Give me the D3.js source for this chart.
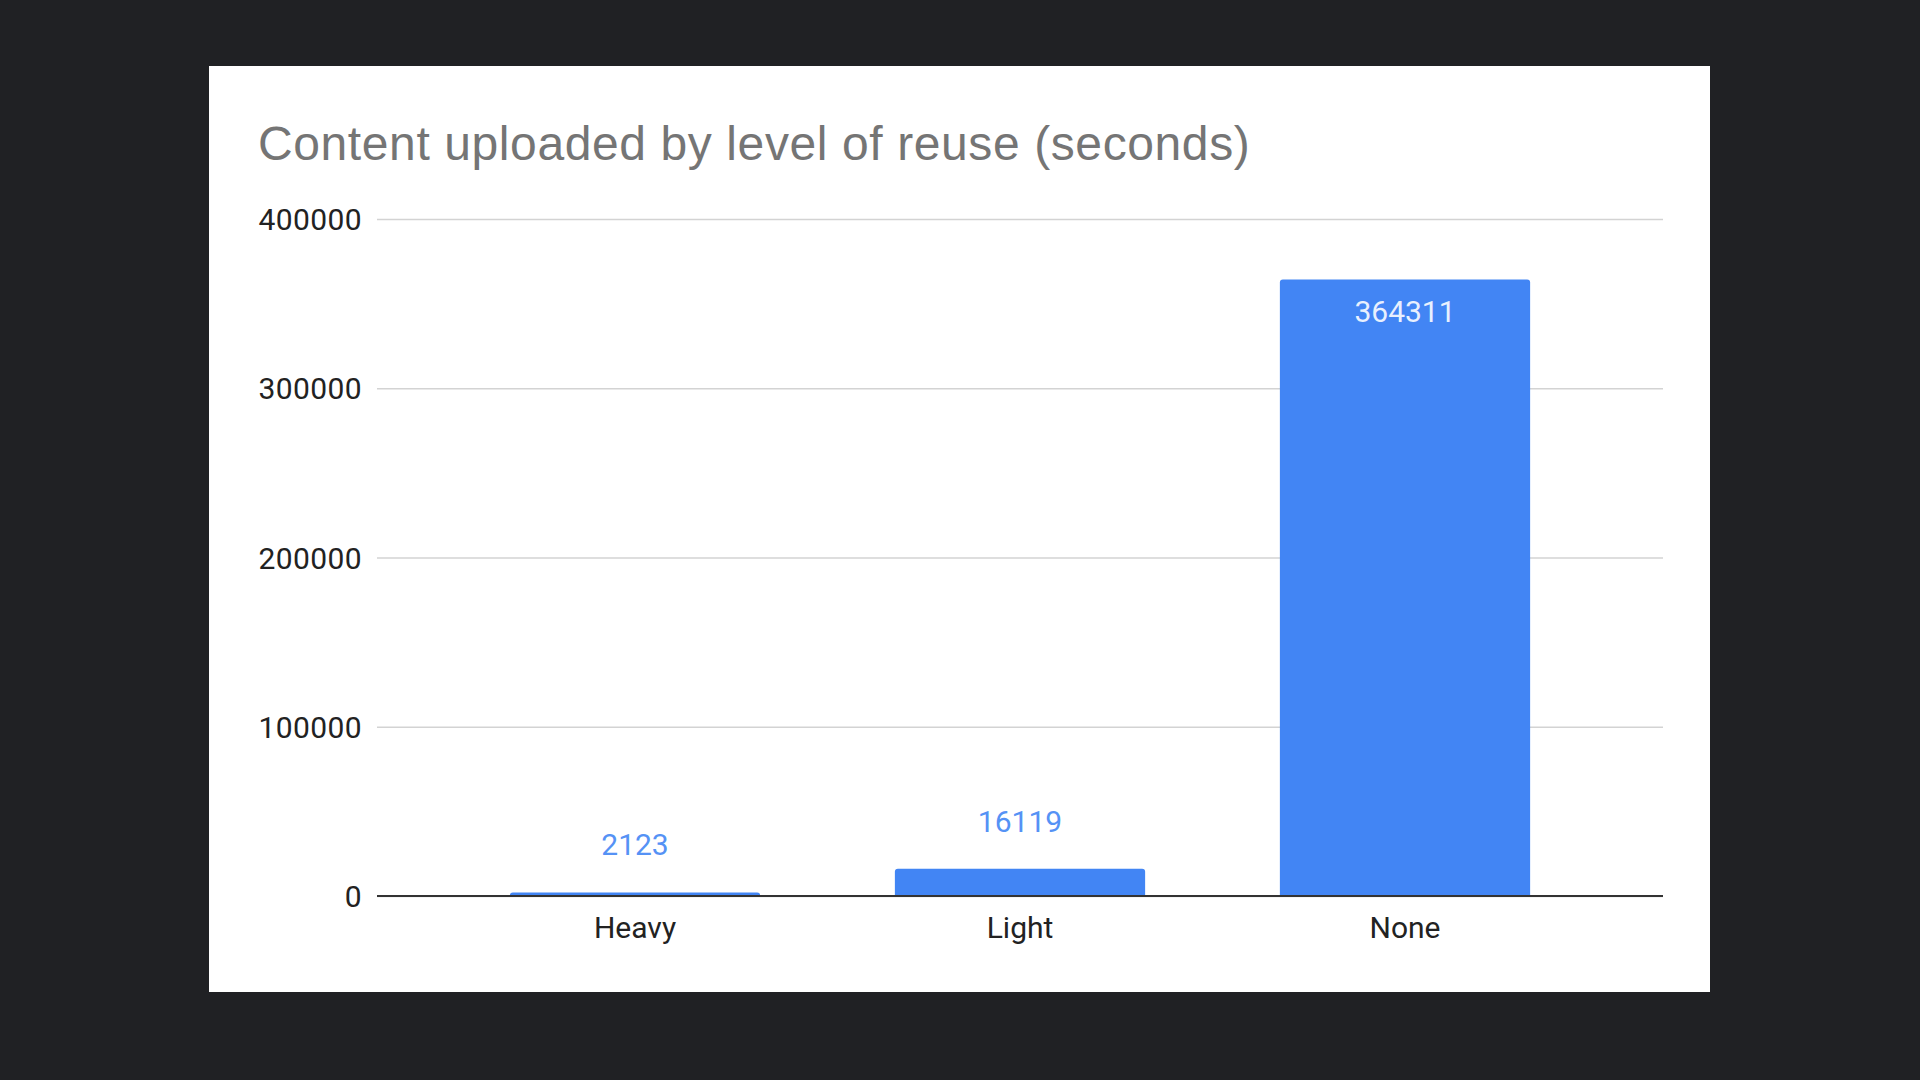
<!DOCTYPE html>
<html>
<head>
<meta charset="utf-8">
<script src="https://cdn.jsdelivr.net/npm/d3@7"></script>
<style>
	body { margin: 0; background: #202124; }
	svg { display: block; }
</style>
</head>
<body>
<script>

const categories = ['Heavy', 'Light', 'None'];
const values = [2123, 16119, 364311];
const yTicks = [0, 100000, 200000, 300000, 400000];
const title = 'Content uploaded by level of reuse (seconds)';

chart();

function chart() {

	const width = 1920;
	const height = 1080;

	// white card the chart sits on
	const card = { x: 209, y: 66, w: 1501, h: 926 };

	// plot area
	const left = 377;
	const right = 1663;
	const top = 219;
	const bottom = 896;

	const svg = d3.select('body')
					.append('svg')
					.attr('width', width)
					.attr('height', height);

	svg.append('rect')
		.attr('x', card.x)
		.attr('y', card.y)
		.attr('width', card.w)
		.attr('height', card.h)
		.attr('fill', '#ffffff');

	svg.append('text')
		.attr('x', 258)
		.attr('y', 160)
		.attr('fill', '#757575')
		.style('font-family', '"Liberation Sans", Arial, sans-serif')
		.style('font-size', '48px')
		.style('letter-spacing', '0.6px')
		.text(title);

	const xScale = d3.scaleBand()
						.domain(categories)
						.range([442.5, 1597.5])
						.paddingInner(0.35)
						.paddingOuter(0.175);
	const yScale = d3.scaleLinear()
						.domain([0, 400000])
						.range([bottom, top]);

	const yAxis = d3.axisLeft(yScale)
					.tickValues(yTicks)
					.tickFormat(d3.format('d'))
					.tickSize(-(right - left))
					.tickPadding(15);

	const gy = svg.append('g')
		.attr('transform', 'translate(' + left + ',0)')
		.call(yAxis);

	gy.select('.domain').remove();
	gy.selectAll('.tick line')
		.attr('stroke', '#d3d3d3')
		.attr('stroke-width', 1.5);
	gy.selectAll('.tick text')
		.attr('fill', '#222')
		.attr('dy', '0.35em')
		.style('font-family', 'Roboto, sans-serif')
		.style('font-size', '30px')
		.style('letter-spacing', '0.4px');

	// bars, top corners rounded
	const r = 3;
	svg.selectAll('path.bar')
		.data(values)
		.enter()
		.append('path')
		.attr('class', 'bar')
		.attr('fill', '#4285f4')
		.attr('d', (d, i) => {
			const x0 = xScale(categories[i]);
			const x1 = x0 + xScale.bandwidth();
			const y0 = yScale(d);
			const rr = Math.min(r, (bottom - y0));
			const p = d3.path();
			p.moveTo(x0, bottom);
			p.lineTo(x0, y0 + rr);
			p.quadraticCurveTo(x0, y0, x0 + rr, y0);
			p.lineTo(x1 - rr, y0);
			p.quadraticCurveTo(x1, y0, x1, y0 + rr);
			p.lineTo(x1, bottom);
			p.closePath();
			return p.toString();
		});

	// baseline drawn over the bars
	svg.append('line')
		.attr('x1', left)
		.attr('x2', right)
		.attr('y1', yScale(0))
		.attr('y2', yScale(0))
		.attr('stroke', '#333')
		.attr('stroke-width', 2);

	// value labels: inside the tall bar, above the short ones
	svg.selectAll('text.value')
		.data(values)
		.enter()
		.append('text')
		.attr('class', 'value')
		.attr('text-anchor', 'middle')
		.attr('x', (d, i) => xScale(categories[i]) + xScale.bandwidth() / 2)
		.attr('y', (d) => {
			const inside = bottom - yScale(d) > 100;
			return inside ? yScale(d) + 43 : yScale(d) - 37;
		})
		.attr('fill', (d) => bottom - yScale(d) > 100 ? '#e8f0fe' : '#5592f5')
		.style('font-family', 'Roboto, sans-serif')
		.style('font-size', '30px')
		.text((d) => d);

	const xAxis = d3.axisBottom(xScale)
					.tickSize(0)
					.tickPadding(20);

	const gx = svg.append('g')
		.attr('transform', 'translate(0,' + bottom + ')')
		.call(xAxis);

	gx.select('.domain').remove();
	gx.selectAll('.tick text')
		.attr('fill', '#222')
		.attr('dy', '0')
		.attr('y', 42)
		.style('font-family', 'Roboto, sans-serif')
		.style('font-size', '30px');

}

</script>
</body>
</html>
